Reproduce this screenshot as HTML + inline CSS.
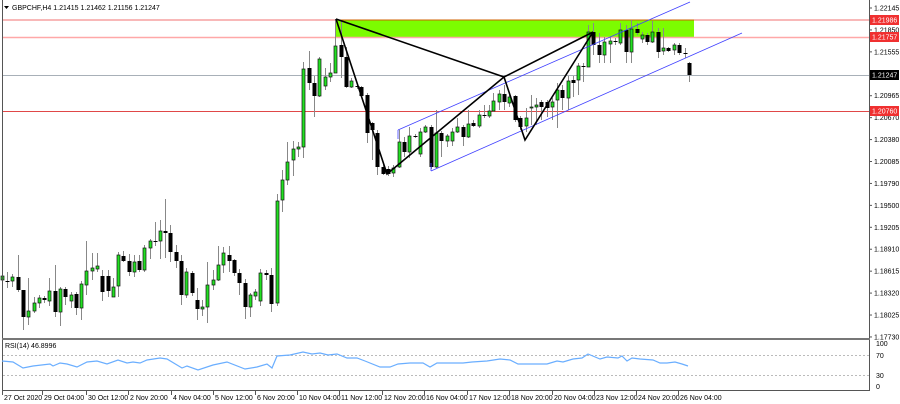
<!DOCTYPE html>
<html><head><meta charset="utf-8"><style>
html,body{margin:0;padding:0;background:#fff;width:900px;height:404px;overflow:hidden}
svg{display:block;font-family:"Liberation Sans",sans-serif}
</style></head><body>
<svg id="s" width="900" height="404" xmlns="http://www.w3.org/2000/svg">
<rect x="0" y="0" width="900" height="404" fill="#fff"/>
<rect x="336" y="20" width="358" height="17" fill="#7cfc00"/>
<line x1="2" y1="20" x2="869" y2="20" stroke="#f07070" stroke-width="1"/>
<line x1="336" y1="20" x2="694" y2="20" stroke="#d06000" stroke-width="1"/>
<line x1="2" y1="37.5" x2="869" y2="37.5" stroke="#ffa8a8" stroke-width="1.5"/>
<line x1="2" y1="75.5" x2="869" y2="75.5" stroke="#a8b0b8" stroke-width="1"/>
<line x1="2" y1="111.5" x2="869" y2="111.5" stroke="#e04848" stroke-width="1"/>
<g id="candles"></g>
<g stroke="#4040ff" stroke-width="0.8" fill="none">
<line x1="398" y1="130" x2="690" y2="2"/>
<line x1="398" y1="130" x2="398" y2="139"/>
<line x1="431" y1="171" x2="742" y2="33"/>
<line x1="431" y1="171" x2="431" y2="163"/>
</g>
<g stroke="#000" stroke-width="1.6" fill="none">
<polyline points="336,19 387,174 504,77 525,140 593,32"/>
<polyline points="336,19 504,77 593,32"/>
</g>
<line x1="2.5" y1="0" x2="2.5" y2="391" stroke="#555" stroke-width="1"/>
<line x1="869.5" y1="0" x2="869.5" y2="391" stroke="#555" stroke-width="1"/>
<line x1="2" y1="339" x2="870" y2="339" stroke="#777" stroke-width="2"/>
<line x1="2" y1="390.5" x2="870" y2="390.5" stroke="#555" stroke-width="1"/>
<line x1="3" y1="355.5" x2="869" y2="355.5" stroke="#bbb" stroke-dasharray="2,2"/>
<line x1="3" y1="375.5" x2="869" y2="375.5" stroke="#bbb" stroke-dasharray="2,2"/>
<polyline id="rsi" fill="none" stroke="#6aaeff" stroke-width="1.2"/>
<text x="5" y="348" font-size="7" fill="#000">RSI(14) 46.8996</text>
<g font-size="7" fill="#000">
<text x="876" y="346">100</text><text x="876" y="358">70</text><text x="876" y="378">30</text><text x="876" y="389">0</text>
</g>
<path d="M4,6 L9,6 L6.5,9 Z" fill="#000"/>
<text x="12" y="10" font-size="7" fill="#000">GBPCHF,H4  1.21415 1.21462 1.21156 1.21247</text>
<g id="axis" font-size="7" fill="#000"></g>
<g id="time" font-size="7" fill="#000"></g>
<rect x="870" y="15" width="29" height="10" fill="#f03030"/><text x="872" y="22.5" font-size="7" fill="#fff">1.21986</text>
<rect x="870" y="32" width="29" height="10" fill="#f03030"/><text x="872" y="39.5" font-size="7" fill="#fff">1.21757</text>
<rect x="870" y="70" width="29" height="10" fill="#000"/><text x="872" y="77.5" font-size="7" fill="#fff">1.21247</text>
<rect x="870" y="106" width="29" height="10" fill="#f03030"/><text x="872" y="113.5" font-size="7" fill="#fff">1.20760</text>
</svg>
<script>
var NS="http://www.w3.org/2000/svg";
function el(t,a,p){var e=document.createElementNS(NS,t);for(var k in a)e.setAttribute(k,a[k]);p.appendChild(e);return e;}
var D=[[2,276,280,273,287,1],[7,281,281,272,288,0],[12,277,281,274,287,1],[18,277,290,255,292,0],[23,290,317,290,330,0],[28,311,317,278,325,1],[34,303,311,297,313,1],[39,298,303,295,308,1],[44,298,300,296,303,0],[49,291,301,278,306,1],[55,291,312,265,317,0],[60,289,312,287,326,1],[65,289,297,287,305,0],[71,295,301,292,308,1],[76,294,308,292,315,0],[81,284,308,281,320,1],[86,271,285,241,295,1],[92,268,271,253,280,1],[97,266,269,253,272,1],[102,276,292,270,301,0],[108,276,291,270,297,0],[113,287,297,278,297,1],[118,255,286,252,297,1],[123,256,261,251,262,0],[129,261,272,254,276,0],[134,262,272,255,277,1],[139,261,270,255,272,0],[144,248,270,245,272,1],[150,241,248,239,259,1],[155,241,242,222,246,0],[160,231,241,220,259,1],[165,231,233,199,258,0],[170,233,252,225,262,0],[176,252,261,245,268,0],[181,261,295,255,305,0],[186,272,295,268,298,1],[192,273,293,271,296,0],[197,300,309,288,320,0],[202,307,309,300,316,1],[207,285,307,262,323,1],[213,280,285,270,290,1],[218,265,280,246,281,1],[223,253,265,247,273,1],[229,255,261,246,272,0],[234,260,273,259,276,0],[239,273,283,269,295,0],[245,283,307,279,319,0],[250,295,307,293,317,1],[255,292,296,289,300,1],[260,273,301,269,306,1],[266,273,275,270,280,0],[271,275,304,268,312,0],[277,201,303,194,306,1],[282,180,200,170,212,1],[287,162,180,142,185,1],[293,149,160,141,176,1],[298,147,149,142,157,1],[303,69,147,62,158,1],[309,68,83,51,90,0],[314,83,96,76,117,0],[319,59,96,57,97,1],[325,77,86,68,90,1],[330,73,77,63,82,1],[335,46,73,19,73,1],[341,45,57,20,78,0],[346,57,87,47,88,0],[351,81,87,78,88,1],[357,86,87,85,89,0],[361,87,96,86,97,0],[367,95,133,93,143,0],[372,123,130,122,160,0],[377,133,167,130,175,0],[383,167,174,164,175,0],[388,169,174,166,176,0],[393,168,173,165,177,1],[399,142,167,130,168,1],[404,142,152,137,157,0],[409,136,152,127,158,1],[415,136,136,134,138,0],[420,132,154,128,157,1],[425,127,132,125,133,1],[431,127,167,125,169,0],[436,133,167,110,168,1],[441,133,141,131,157,0],[447,136,141,134,147,1],[452,132,141,128,146,1],[457,127,132,118,133,1],[463,127,137,125,146,0],[468,124,137,110,138,1],[473,123,126,120,127,0],[479,115,126,110,128,1],[484,115,115,105,118,0],[489,111,116,105,118,1],[493,101,111,93,112,1],[499,94,102,90,110,1],[504,94,102,85,110,0],[509,97,103,95,107,1],[515,96,120,95,122,0],[520,118,127,116,130,0],[526,118,126,108,132,1],[531,107,108,95,125,1],[536,105,107,98,125,1],[541,102,107,100,120,0],[547,102,108,100,117,0],[552,102,107,98,120,1],[557,90,100,83,128,1],[562,90,98,85,110,0],[568,81,98,76,110,1],[573,80,83,76,97,0],[578,66,80,63,95,1],[583,66,67,63,82,0],[588,32,67,25,67,1],[593,32,45,23,55,0],[599,45,55,33,63,0],[604,42,55,37,63,1],[610,41,44,37,63,1],[615,41,42,38,45,0],[620,30,43,23,45,1],[626,30,52,25,63,0],[631,29,52,20,63,1],[637,29,33,23,35,0],[642,35,39,32,43,1],[647,35,42,33,45,0],[652,32,42,21,43,1],[658,32,52,28,58,0],[663,48,51,28,55,1],[668,48,51,47,52,0],[674,45,50,43,55,1],[679,45,53,43,55,0],[685,53,53,48,58,0],[689,63,75,62,82,0]];
var g=document.getElementById("candles");
D.forEach(function(d){
 var x=d[0]+0.5;
 el("line",{x1:x,y1:d[3],x2:x,y2:d[4],stroke:"#888","stroke-width":1},g);
 var h=Math.max(1,d[2]-d[1]);
 if(d[5]) el("rect",{x:d[0]-1,y:d[1],width:3,height:h,fill:"#22e022",stroke:"#111","stroke-width":0.7},g);
 else el("rect",{x:d[0]-1.5,y:d[1],width:4,height:h,fill:"#000"},g);
});
var R=[[2,361],[13,362],[23,368],[33,366],[50,364],[53,366],[60,363],[67,364],[77,367],[87,362],[97,361],[107,364],[118,360],[127,363],[133,362],[140,363],[147,360],[160,358],[167,359],[182,368],[187,366],[198,370],[213,365],[227,362],[245,369],[257,367],[267,364],[272,368],[277,356],[290,355],[303,352],[312,354],[320,353],[328,355],[337,354],[347,358],[357,358],[365,361],[380,367],[390,367],[398,364],[410,363],[423,363],[430,367],[437,363],[450,363],[463,363],[472,362],[487,361],[500,359],[510,360],[518,364],[527,364],[547,364],[557,361],[563,362],[573,359],[582,358],[588,354],[600,359],[607,357],[618,358],[622,356],[627,361],[632,358],[640,359],[653,360],[660,363],[667,363],[675,362],[682,364],[688,366]];
document.getElementById("rsi").setAttribute("points",R.map(function(p){return p.join(",")}).join(" "));
var ax=document.getElementById("axis");
var P=["1.22145","1.21850","1.21555","","1.20965","1.20670","1.20380","1.20085","1.19790","1.19500","1.19205","1.18910","1.18615","1.18320","1.18025","1.17730"];
P.forEach(function(t,k){var y=8+k*21.93;if(!t)return;
 el("line",{x1:869,y1:y,x2:872,y2:y,stroke:"#555"},ax);
 var e=el("text",{x:874,y:y+2.5},ax);e.textContent=t;});
var T=[[2,"27 Oct 2020"],[42,"29 Oct 04:00"],[86,"30 Oct 12:00"],[128,"2 Nov 20:00"],[171,"4 Nov 04:00"],[213,"5 Nov 12:00"],[255,"6 Nov 20:00"],[297,"10 Nov 04:00"],[339,"11 Nov 12:00"],[382,"12 Nov 20:00"],[424,"16 Nov 04:00"],[467,"17 Nov 12:00"],[509,"18 Nov 20:00"],[552,"20 Nov 04:00"],[594,"23 Nov 12:00"],[636,"24 Nov 20:00"],[678,"26 Nov 04:00"]];
var tm=document.getElementById("time");
T.forEach(function(t){el("line",{x1:t[0]+0.5,y1:391,x2:t[0]+0.5,y2:395,stroke:"#555"},tm);
 var e=el("text",{x:t[0]+2,y:400},tm);e.textContent=t[1];});
</script>
</body></html>
